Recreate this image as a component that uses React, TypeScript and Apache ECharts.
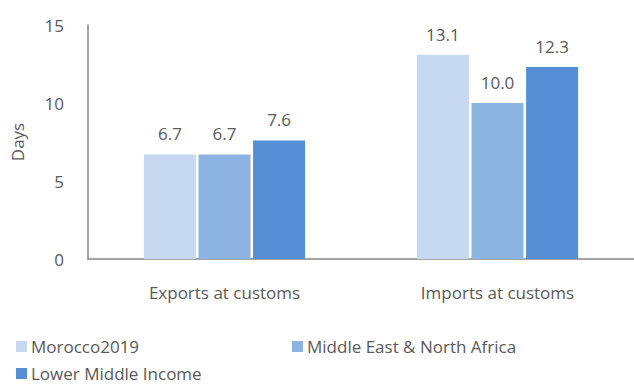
import React, { useEffect, useRef } from "react";
import * as echarts from "echarts";

const categories = ["Exports at customs", "Imports at customs"];
const seriesNames = ["Morocco2019", "Middle East & North Africa", "Lower Middle Income"];
const morocco = [6.7, 13.1];
const mena = [6.7, 10.0];
const lowerMiddle = [7.6, 12.3];
const colors = ["#C6D9F1", "#8DB3E2", "#558ED5"];
const yTicks = { min: 0, max: 15, interval: 5 };

const FONT = "Open Sans";
const TEXT = "#595959";
const FS = 17;

export default function App() {
  const ref = useRef<HTMLDivElement>(null);
  useEffect(() => {
    const chart = echarts.init(ref.current!, undefined, { renderer: "svg" });
    const values = [morocco, mena, lowerMiddle];
    chart.setOption({
      animation: false,
      textStyle: { fontFamily: FONT },
      grid: { left: 88, top: 25, width: 548, height: 234, containLabel: false },
      legend: [
        { data: [seriesNames[0]], left: 16, top: 338 },
        { data: [seriesNames[1]], left: 292, top: 338 },
        { data: [seriesNames[2]], left: 16, top: 365 },
      ].map((l) => ({
        ...l,
        itemWidth: 11,
        itemHeight: 11,
        itemGap: 5,
        icon: "rect",
        textStyle: { fontFamily: FONT, fontSize: FS, color: TEXT, padding: [0, 0, 0, -1] },
        padding: 0,
      })),
      xAxis: {
        type: "category",
        data: categories,
        axisLine: { lineStyle: { color: "#868686", width: 1.5 } },
        axisTick: { show: false },
        axisLabel: { fontFamily: FONT, fontSize: FS, color: TEXT, margin: 25 },
      },
      yAxis: {
        type: "value",
        min: yTicks.min,
        max: yTicks.max,
        interval: yTicks.interval,
        name: "Days",
        nameLocation: "middle",
        nameGap: 62,
        nameRotate: 90,
        nameTextStyle: { fontFamily: FONT, fontSize: FS, color: TEXT },
        axisLine: { show: true, lineStyle: { color: "#868686", width: 1.5 } },
        axisTick: { show: false },
        splitLine: { show: false },
        axisLabel: { fontFamily: FONT, fontSize: FS, color: TEXT, margin: 24 },
      },
      series: seriesNames.map((name, i) => ({
        name,
        type: "bar",
        data: values[i],
        barWidth: 52,
        barGap: "5%",
        itemStyle: { color: colors[i] },
        label: {
          show: true,
          position: "top",
          distance: 12,
          fontFamily: FONT,
          fontSize: FS,
          color: TEXT,
          formatter: (p: any) => Number(p.value).toFixed(1),
        },
      })),
    });
    return () => chart.dispose();
  }, []);
  return <div ref={ref} style={{ width: 634, height: 386, position: "absolute", left: 0, top: 0 }} />;
}
